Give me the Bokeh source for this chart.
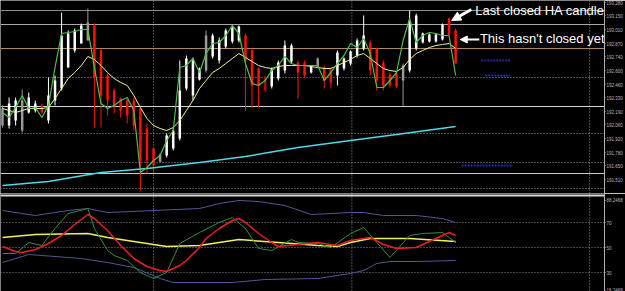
from bokeh.plotting import figure
from bokeh.layouts import column
from bokeh.models import ColumnDataSource, Span, Label, Arrow, NormalHead, FixedTicker, Range1d
from bokeh.embed import file_html
from bokeh.resources import INLINE

# ---------------- data ----------------
bar_index = list(range(70))
ha_open = [192.05, 192.05, 192.10, 192.00, 192.18, 192.20, 192.25, 192.10, 192.30, 192.42,
           192.63, 192.80, 192.87, 192.90, 193.05, 192.80, 192.55, 192.40, 192.32, 192.30,
           192.30, 192.22, 192.02, 191.82, 191.69, 191.75, 191.82, 191.92, 192.42, 192.35,
           192.51, 192.60, 192.74, 192.70, 192.84, 192.89, 192.90, 192.95, 192.80, 192.62,
           192.54, 192.44, 192.52, 192.60, 192.69, 192.68, 192.68, 192.58, 192.64, 192.63,
           192.61, 192.55, 192.62, 192.67, 192.75, 192.82, 192.88, 192.82, 192.68, 192.56,
           192.57, 192.50, 192.60, 192.82, 192.88, 192.89, 192.89, 192.91, 193.12, 193.00]
ha_close = [192.22, 192.27, 192.30, 192.30, 192.33, 192.27, 192.18, 192.35, 192.50, 192.95,
            192.97, 193.00, 193.05, 193.08, 192.53, 192.35, 192.30, 192.25, 192.20, 192.15,
            192.05, 191.70, 191.70, 191.65, 191.76, 191.95, 192.00, 192.40, 192.72, 192.70,
            192.62, 192.95, 192.95, 192.90, 193.00, 193.03, 193.04, 192.70, 192.45, 192.45,
            192.40, 192.61, 192.68, 192.85, 192.85, 192.58, 192.55, 192.64, 192.72, 192.50,
            192.48, 192.78, 192.72, 192.79, 192.90, 192.95, 192.60, 192.50, 192.45, 192.45,
            192.44, 192.65, 193.10, 193.15, 192.97, 192.96, 192.96, 193.06, 192.96, 192.67]
ha_high = [192.25, 192.33, 192.33, 192.41, 192.38, 192.30, 192.27, 192.53, 192.55, 193.18,
           193.00, 193.02, 193.07, 193.22, 193.07, 192.82, 192.57, 192.42, 192.33, 192.32,
           192.33, 192.23, 192.07, 191.83, 191.77, 191.97, 192.02, 192.70, 192.75, 192.73,
           192.63, 193.00, 192.97, 192.93, 193.02, 193.05, 193.05, 192.97, 192.82, 192.63,
           192.55, 192.63, 192.70, 192.90, 192.87, 192.70, 192.70, 192.65, 192.73, 192.65,
           192.63, 192.80, 192.73, 192.80, 192.92, 193.15, 192.90, 192.83, 192.70, 192.58,
           192.58, 192.67, 193.20, 193.17, 192.98, 192.97, 192.97, 193.07, 193.13, 193.02]
ha_low = [192.03, 192.02, 192.05, 191.98, 192.17, 192.18, 192.17, 192.07, 192.25, 192.40,
          192.63, 192.78, 192.87, 192.90, 192.03, 192.03, 192.15, 192.17, 192.13, 192.07,
          192.00, 191.40, 191.57, 191.58, 191.68, 191.73, 191.80, 191.90, 192.40, 192.30,
          192.50, 192.58, 192.72, 192.67, 192.82, 192.87, 192.88, 192.20, 192.23, 192.23,
          192.38, 192.42, 192.50, 192.57, 192.67, 192.32, 192.53, 192.57, 192.63, 192.42,
          192.42, 192.45, 192.60, 192.65, 192.73, 192.80, 192.55, 192.40, 192.40, 192.43,
          192.42, 192.24, 192.58, 192.80, 192.87, 192.88, 192.88, 192.90, 192.95, 192.67]
# w = white (up), g = grey, r = red (down), d = dark red
ha_kind = list("gwwgwwrwww" "wwwgrrrrrr" "rrrrgwwwww" "wgwwwwwrrr" "dwwwwrrwgr"
               "rwwwwwrrrr" "rgwwwwwwrr")

fast_ma = [192.18, 192.13, 192.23, 192.35, 192.22, 192.23, 192.13, 192.25, 192.63, 192.97,
           192.98, 192.99, 193.01, 193.01, 192.63, 192.27, 192.22, 192.25, 192.30, 192.33,
           192.20, 191.58, 191.63, 191.70, 191.75, 191.90, 192.00, 192.63, 192.65, 192.72,
           192.58, 192.77, 192.87, 192.88, 192.95, 193.05, 192.97, 192.67, 192.47, 192.45,
           192.50, 192.60, 192.65, 192.74, 192.67, 192.65, 192.65, 192.65, 192.65, 192.50,
           192.58, 192.67, 192.75, 192.87, 192.83, 192.92, 192.77, 192.43, 192.43, 192.50,
           192.58, 192.90, 193.12, 192.88, 192.95, 192.98, 192.97, 192.95, 192.95, 192.55]
slow_ma = [192.22, 192.20, 192.18, 192.20, 192.22, 192.22, 192.22, 192.23, 192.32, 192.42,
           192.52, 192.58, 192.65, 192.74, 192.71, 192.65, 192.58, 192.52, 192.48, 192.45,
           192.35, 192.23, 192.12, 192.05, 192.02, 192.00, 192.03, 192.10, 192.20, 192.30,
           192.42, 192.50, 192.58, 192.62, 192.67, 192.72, 192.77, 192.73, 192.69, 192.65,
           192.63, 192.62, 192.64, 192.65, 192.65, 192.65, 192.65, 192.64, 192.63, 192.62,
           192.62, 192.65, 192.68, 192.71, 192.75, 192.77, 192.72, 192.67, 192.62, 192.60,
           192.59, 192.63, 192.71, 192.77, 192.80, 192.83, 192.85, 192.86, 192.87, 192.82]
long_ma_idx = [0, 7, 15, 22, 30, 37, 45, 53, 60, 69]
long_ma = [191.45, 191.49, 191.58, 191.62, 191.68, 191.74, 191.83, 191.90, 191.96, 192.04]

# oscillator sub-window
band_up_idx = [0, 5, 10, 13, 16, 23, 30, 33, 36, 39, 43, 47, 53, 55, 58, 63, 67, 69]
band_up = [79.6, 75.6, 79.6, 81.2, 78.0, 79.6, 81.2, 85.2, 87.6, 86.8, 83.6, 76.4, 78.0, 78.0,
           75.6, 75.6, 73.2, 70.0]
band_dn_idx = [0, 4, 8, 12, 16, 20, 24, 26, 35, 40, 48, 53, 55, 57, 59, 63, 69]
band_dn = [38.0, 44.4, 42.8, 41.2, 38.0, 34.0, 25.2, 22.0, 22.0, 24.4, 25.2, 29.2, 31.6, 37.2,
           38.8, 38.8, 39.6]
osc_mid_idx = [0, 5, 13, 16, 21, 25, 30, 36, 42, 48, 51, 53, 56, 62, 69]
osc_mid = [58.0, 60.4, 61.2, 58.0, 54.0, 50.8, 51.6, 56.4, 54.0, 51.6, 50.8, 54.0, 57.2, 57.2, 54.8]
osc_signal_idx = [0, 2, 3, 5, 7, 9, 11, 13, 14, 16, 18, 20, 22, 24, 25, 27, 28, 30, 31, 33,
                  35, 36, 37, 39, 41, 42, 45, 48, 51, 53, 56, 58, 60, 63, 66, 68, 69]
osc_signal = [50.8, 46.8, 46.0, 48.4, 53.2, 59.6, 68.4, 76.4, 73.2, 63.6, 51.6, 41.2, 34.8,
              31.6, 30.8, 35.6, 39.6, 50.0, 57.2, 65.2, 71.6, 73.2, 70.0, 61.2, 54.0, 50.8,
              52.4, 54.0, 51.6, 55.6, 58.0, 52.4, 49.2, 50.0, 57.2, 62.0, 59.6]
osc_fast_idx = [0, 2, 4, 6, 8, 10, 13, 14, 16, 17, 19, 21, 23, 25, 27, 30, 33, 35, 37, 39, 41,
                44, 45, 48, 50, 53, 55, 57, 59, 62, 64, 67, 69]
osc_fast = [45.2, 45.2, 54.0, 51.6, 65.2, 77.2, 81.2, 65.2, 47.6, 43.6, 39.6, 30.0, 25.2, 30.0,
            53.2, 62.0, 70.0, 74.0, 65.2, 49.2, 47.6, 56.4, 54.0, 53.2, 50.0, 61.2, 66.0, 54.0,
            42.0, 59.6, 61.2, 62.0, 54.0]
osc_levels = [70, 50, 30]

# price axis
price_ticks = [193.28, 193.15, 193.01, 192.87, 192.74, 192.60, 192.46, 192.33, 192.19,
               192.06, 191.92, 191.78, 191.65, 191.51]
sub_ticks = [88.0, 70, 50, 30, 16.0]
sub_tick_labels = ["88.2468", "70", "50", "30", "16.2468"]
# horizontal levels drawn on the price window
sr_levels = [193.20, 193.06, 192.82, 192.24, 191.57]
sr_colors = ["#8e8e8e", "#a9a9a9", "#b4865e", "#d4d4d4", "#cccccc"]
grid_levels = [192.53, 191.97, 191.68, 191.42]
tag_levels = [193.21, 193.07, 192.83, 192.57, 192.26, 191.58]
tag_colors = ["#ffffff", "#e8e84a", "#e0a030", "#ffffff", "#ffffff", "#e8e84a"]
vgrid_at = [23.0, 53.2, 89.4]
pivot_levels = [192.70, 192.55, 191.65]
pivot_from = [72.9, 73.5, 69.9]
pivot_to = [77.3, 77.3, 77.7]
last_closed = 68
current_bar = 69

# ---------------- figures ----------------
kind_color = {"w": "#ffffff", "g": "#9a9a9a", "r": "#ff1010", "d": "#a01010"}
colors = [kind_color[k] for k in ha_kind]
src = ColumnDataSource(dict(
    x=bar_index, o=ha_open, c=ha_close, h=ha_high, l=ha_low,
    top=[max(a, b) for a, b in zip(ha_open, ha_close)],
    bot=[min(a, b) for a, b in zip(ha_open, ha_close)],
    color=colors, fast=fast_ma, slow=slow_ma))

x_rng = Range1d(-0.303, 91.67)
common = dict(output_backend="svg", toolbar_location=None, x_axis_location=None,
              y_axis_location="right", min_border_left=0, min_border_right=18,
              min_border_top=0, min_border_bottom=0, background_fill_color="black",
              border_fill_color="black", outline_line_color=None, x_range=x_rng)

p = figure(width=625, height=193, y_range=Range1d(191.37, 193.30), **common)
q = figure(width=625, height=98, y_range=Range1d(14.8, 93.2), **common)

for fig in (p, q):
    fig.xgrid.visible = False
    fig.ygrid.visible = False
    ax = fig.yaxis[0]
    ax.axis_line_color = "#b0b0b0"
    ax.major_tick_line_color = "#b0b0b0"
    ax.minor_tick_line_color = None
    ax.major_tick_out = 1
    ax.major_tick_in = 0
    ax.major_label_standoff = 1
    ax.major_label_text_color = "#b8b8b8"
    ax.major_label_text_font = "Liberation Sans"
    ax.major_label_text_font_size = "4.5px"
    for xv in vgrid_at:
        fig.add_layout(Span(location=xv, dimension="height", line_color="#9a9a9a",
                            line_dash="1 2", line_width=1, level="underlay"))

p.yaxis[0].ticker = FixedTicker(ticks=price_ticks)
p.yaxis[0].major_label_overrides = {t: f"{t:.3f}" for t in price_ticks}
q.yaxis[0].ticker = FixedTicker(ticks=sub_ticks)
q.yaxis[0].major_label_overrides = dict(zip(sub_ticks, sub_tick_labels))

# price window levels
for lv, col in zip(sr_levels, sr_colors):
    p.add_layout(Span(location=lv, dimension="width", line_color=col, line_width=1,
                      level="underlay"))
for lv in grid_levels:
    p.add_layout(Span(location=lv, dimension="width", line_color="#9a9a9a",
                      line_dash="1 2", line_width=1, level="underlay"))

# candles
p.segment(x0="x", y0="l", x1="x", y1="h", color="color", line_width=1, source=src)
p.vbar(x="x", top="top", bottom="bot", width=0.38, fill_color="color", line_color=None,
       source=src)

# moving averages
p.line(long_ma_idx, long_ma, line_color="#4fd8e6", line_width=1.6)
p.line("x", "slow", source=src, line_color="#f2f28c", line_width=1)
p.line("x", "fast", source=src, line_color="#4cc04c", line_width=1.2)

# pivot marks
p.segment(x0=pivot_from, y0=pivot_levels, x1=pivot_to, y1=pivot_levels,
          line_color="#2a36c8", line_width=2, line_dash="2 1", line_alpha=0.8)

# price tags on the axis
for lv, col in zip(tag_levels, tag_colors):
    p.add_layout(Label(x=608, x_units="screen", y=lv, text=f"{lv:.3f}",
                       text_font="Liberation Sans", text_font_size="4.5px",
                       text_color="black", text_baseline="middle",
                       background_fill_color=col, x_offset=0))

# annotations
p.add_layout(Arrow(end=NormalHead(size=9, fill_color="white", line_color="white"),
                   x_start=71.4, y_start=193.21,
                   x_end=last_closed + 0.4, y_end=ha_high[last_closed] - 0.03,
                   line_color="white", line_width=3))
p.add_layout(Arrow(end=NormalHead(size=7, fill_color="white", line_color="white"),
                   x_start=72.6, y_start=192.91,
                   x_end=current_bar + 0.7, y_end=192.91,
                   line_color="white", line_width=2))
p.add_layout(Label(x=72.0, y=193.20, text="Last closed HA candle", text_color="white",
                   text_font="Liberation Sans", text_font_size="13px",
                   text_baseline="middle"))
p.add_layout(Label(x=72.7, y=192.92, text="This hasn't closed yet", text_color="white",
                   text_font="Liberation Sans", text_font_size="13px",
                   text_baseline="middle"))

# oscillator window
q.add_layout(Span(location=91.6, dimension="width", line_color="#d8d8d8", line_width=2))
for lv in osc_levels:
    q.add_layout(Span(location=lv, dimension="width", line_color="#8a8a8a",
                      line_dash="1 2", line_width=1, level="underlay"))
q.line(band_up_idx, band_up, line_color="#55559a", line_width=1)
q.line(band_dn_idx, band_dn, line_color="#55559a", line_width=1)
q.line(osc_mid_idx, osc_mid, line_color="#f0f060", line_width=1.5)
q.line(osc_fast_idx, osc_fast, line_color="#2f8f3a", line_width=1)
q.line(osc_signal_idx, osc_signal, line_color="#e82020", line_width=1.5)

layout = column(p, q, spacing=0)
open("out.html", "w").write(file_html(layout, INLINE))
